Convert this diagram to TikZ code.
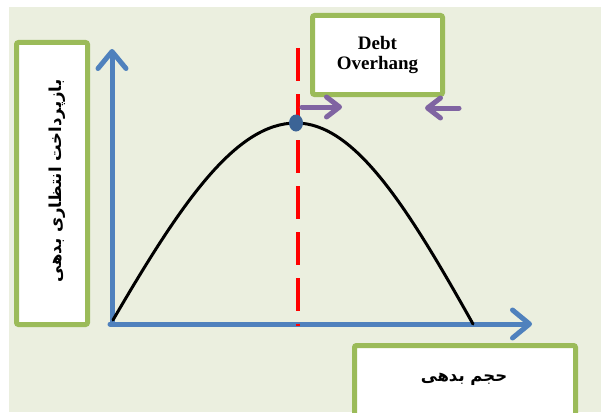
\documentclass[tikz,border=0pt]{standalone}
\usepackage{fontspec}
\setmainfont{Liberation Serif}
\newfontfamily\farsi[Script=Arabic]{DejaVu Sans}
\TeXXeTstate=1
\usetikzlibrary{arrows.meta, shapes.geometric, positioning}
\definecolor{fondvert}{RGB}{235,239,223}
\definecolor{cadrevert}{RGB}{155,187,89}
\definecolor{axebleu}{RGB}{79,129,189}
\definecolor{pointbleu}{RGB}{60,100,150}
\definecolor{flechemauve}{RGB}{128,100,162}

\begin{document}
\begin{tikzpicture}[x=1pt,y=-1pt,
  cadre/.style={draw=cadrevert, line width=5pt, fill=white, rounded corners=2pt, inner sep=0pt, align=center},
  axe/.style={draw=axebleu, line width=5pt, line cap=round, -{Straight Barb[length=17pt, width=28pt, round]}},
  courbe/.style={line width=3pt, line cap=round},
  seuil/.style={draw=red, line width=4pt, dash pattern=on 33pt off 13pt},
  poussee/.style={draw=flechemauve, line width=5pt, line cap=round, -{Straight Barb[length=13pt, width=20pt, round]}},
  titre/.style={font=\fontsize{19}{20}\selectfont\bfseries},
  legende/.style={font=\farsi\fontsize{16.5}{18}\selectfont\bfseries}]

\useasboundingbox (0,0) rectangle (601,412);
\fill[fondvert] (9,7) rectangle (601,412);

%% ================= cadres de texte ========================================
\node[cadre, minimum width=71, minimum height=282] (vertical) at (52,183.5) {};
\node[legende, rotate=90] (txtv) at (57,181) {\beginR بازپرداخت انتظاری بدهی\endR};
\node[cadre, minimum width=130, minimum height=79, titre] (overhang) at (377.5,55) {Debt\\Overhang};
\node[cadre, minimum width=221, minimum height=72] (horizontal) at (465,381.5) {};
\node[legende] (txth) at (464,379) {\beginR حجم بدهی\endR};

%% ================= axes ===================================================
\coordinate (O)    at (112,323);
\coordinate (yfin) at (112,49);
\coordinate (xfin) at (532,324);
\draw[axe] (O) -- (yfin);
\draw[axe] (110,324) -- (xfin);

%% ================= courbe et sommet =======================================
\coordinate (depart) at (113,320);
\coordinate (arrivee) at (473,324);
\coordinate (sommet) at (296,123);
\draw[courbe] (depart) .. controls (180,205) and (235,123) .. (sommet)
  .. controls (355,123) and (408,208) .. (arrivee);
\coordinate (haut) at (297.5,48);
\coordinate (bas)  at (297.5,326);
\draw[seuil] (haut) -- (bas);
\node[fill=pointbleu, ellipse, minimum width=14, minimum height=17, inner sep=0pt] (pic) at (sommet) {};

%% ================= flèches ================================================
\coordinate (g1) at (302,107);  \coordinate (g2) at (342,107);
\coordinate (d1) at (459,108);  \coordinate (d2) at (425,108);
\draw[poussee] (g1) -- (g2);
\draw[poussee] (d1) -- (d2);
\end{tikzpicture}
\end{document}
